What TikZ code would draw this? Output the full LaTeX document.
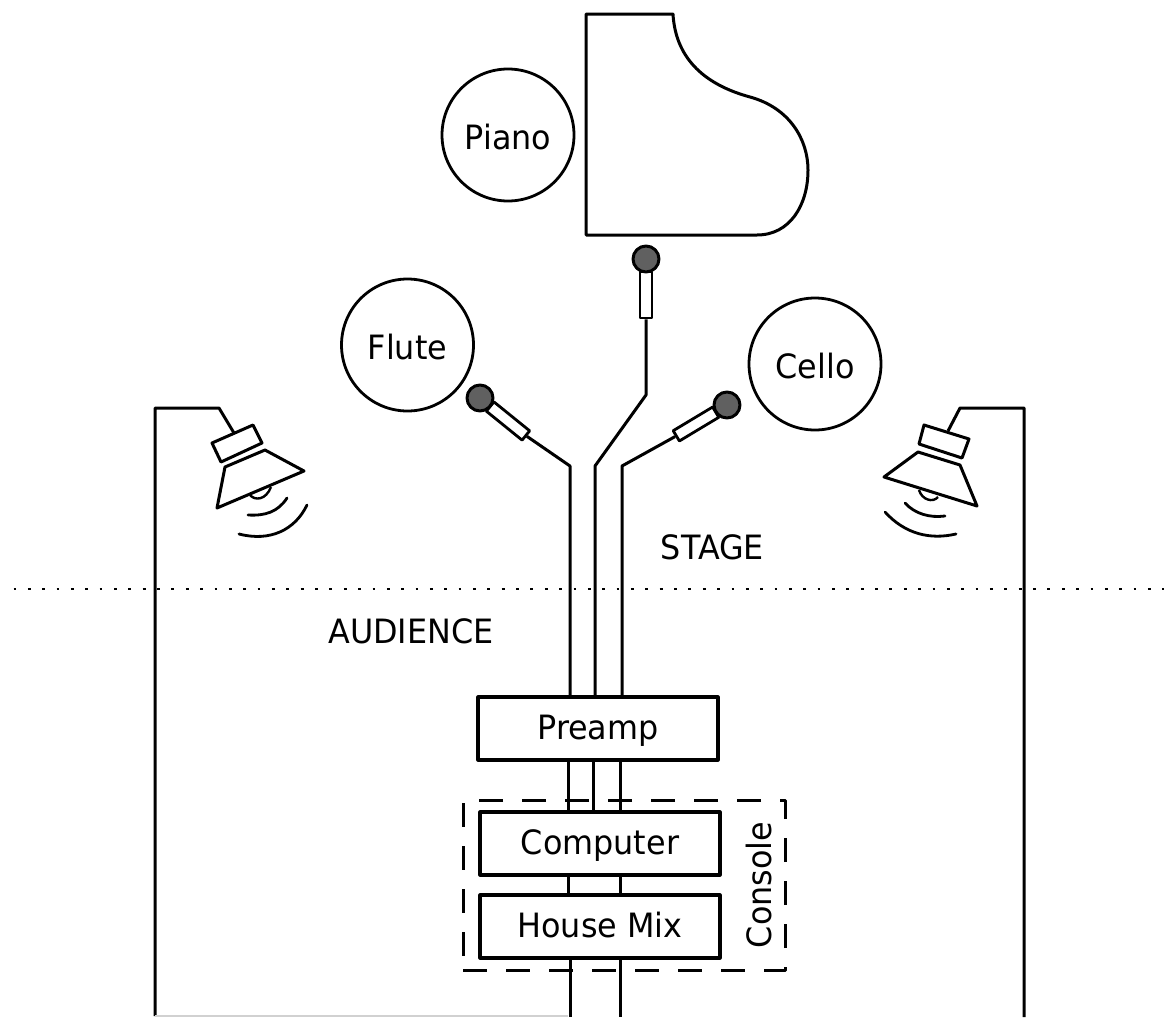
\documentclass[tikz,border=0pt]{standalone}
\usepackage{fontspec}
\setmainfont[FakeStretch=0.95]{DejaVu Sans}
\begin{document}
\begin{tikzpicture}[x=1pt,y=-1pt,
  every path/.style={line width=3pt,line join=round},
  person/.style={circle,draw,line width=2.8pt,minimum size=132pt,inner sep=0pt,text height=30pt,text depth=2pt,font=\fontsize{33.5}{36}\selectfont},
  unit/.style={rectangle,draw,line width=3.2pt,minimum width=240pt,minimum height=63pt,inner sep=0pt,text height=26pt,text depth=5pt,font=\fontsize{33.5}{36}\selectfont},
  micball/.style={circle,draw,line width=3pt,fill=micgray,minimum size=26pt,inner sep=0pt},
  micbody/.style={rectangle,draw,line width=2.8pt,fill=white,minimum width=12pt,minimum height=46pt,inner sep=0pt},
  label/.style={font=\fontsize{33.5}{36}\selectfont,inner sep=0pt,anchor=base},
  wave/.style={line width=2.8pt,line cap=round}]
\definecolor{micgray}{HTML}{606060}
\useasboundingbox (0,0) rectangle (1164,1017);
% piano
\draw (586,14) -- (673,14) .. controls (675,50) and (695,82) .. (750,97)
  .. controls (790,108) and (808,140) .. (808,170) .. controls (808,205) and (790,235) .. (757,235)
  -- (586,235) -- cycle;
\node[person] (piano) at (508,135) {Piano};
\node[person] (flute) at (407.5,345) {Flute};
\node[person] (cello) at (815,364) {Cello};
% mics
\node[micbody] (cbody) at (646,295) {};
\node[micbody,rotate=51] (lbody) at (508,421) {};
\node[micbody,rotate=-59] (rbody) at (696,424) {};
\node[micball] (cball) at (646,259) {};
\node[micball] (lball) at (480,398) {};
\node[micball] (rball) at (727,405) {};
% units
\node[unit] (preamp) at (598,728.5) {Preamp};
\node[unit] (comp) at (600,843.5) {Computer};
\node[unit] (mix) at (600,926.5) {House Mix};
\node[rectangle,draw,line width=3pt,dash pattern=on 24pt off 19pt,minimum width=322pt,minimum height=170pt,inner sep=0pt] (console) at (624,885) {};
\node[label,rotate=90] (consolelabel) at (771,885) {Console};
\node[label] (stage) at (712.5,559) {STAGE};
\node[label] (audience) at (411,643) {AUDIENCE};
% wires to preamp
\coordinate (j1) at (570,466);
\coordinate (j2) at (595,466);
\coordinate (j3) at (622,466);
\coordinate (k2) at (646,395);
\draw (lbody.south) -- (j1) -- (j1|-preamp.north);
\draw (cbody.south) -- (k2) -- (j2) -- (j2|-preamp.north);
\draw (rbody.south) -- (j3) -- (j3|-preamp.north);
% wires preamp-computer
\coordinate (w1) at (568.5,800);
\coordinate (w2) at (593.5,800);
\coordinate (w3) at (620.5,800);
\draw (w1|-preamp.south) -- (w1|-comp.north);
\draw (w2|-preamp.south) -- (w2|-comp.north);
\draw (w3|-preamp.south) -- (w3|-comp.north);
\draw (w1|-comp.south) -- (w1|-mix.north);
\draw (w3|-comp.south) -- (w3|-mix.north);
\coordinate (b1) at (570.5,1017);
\coordinate (b3) at (620.5,1017);
\draw (b1|-mix.south) -- (b1);
\draw (b3|-mix.south) -- (b3);
% dotted divider
\coordinate (d1) at (13.5,589);
\coordinate (d2) at (1164,589);
\draw[line width=2.6pt,dash pattern=on 2.8pt off 11.56pt] (d1) -- (d2);
% left speaker
\coordinate (lb) at (155,1016);
\coordinate (lt) at (155,408);
\coordinate (lm) at (219,408);
\coordinate (ls) at (234,433);
\draw (lb) -- (lt) -- (lm) -- (ls);
\draw[black!18,line width=1.5pt] (lb) -- (568,1016);
\draw (212,443) -- (253,425) -- (262,443) -- (221,462) -- cycle;
\draw (265,450) -- (304,471) -- (217,508) -- (225,467) -- cycle;
\draw[line width=2.4pt] (250,495) .. controls (255,501) and (266,500) .. (271,487);
\draw[wave] (248,515) .. controls (265,516) and (278,512) .. (287,498);
\draw[wave] (239,534) .. controls (270,542) and (295,530) .. (307,505);
% right speaker
\coordinate (rb) at (1024,1017);
\coordinate (rt) at (1024,408);
\coordinate (rm) at (960,408);
\coordinate (rs) at (948,431);
\draw (rb) -- (rt) -- (rm) -- (rs);
\draw (924,425) -- (969,439) -- (962,458) -- (919,444) -- cycle;
\draw (918,452) -- (884,477) -- (977,506) -- (960,465) -- cycle;
\draw[line width=2.4pt] (919,490) .. controls (922,500) and (933,503) .. (938,497);
\draw[wave] (905,503) .. controls (915,514) and (930,518) .. (945,516);
\draw[wave] (885,512) .. controls (905,534) and (930,540) .. (956,534);
\end{tikzpicture}
\end{document}
